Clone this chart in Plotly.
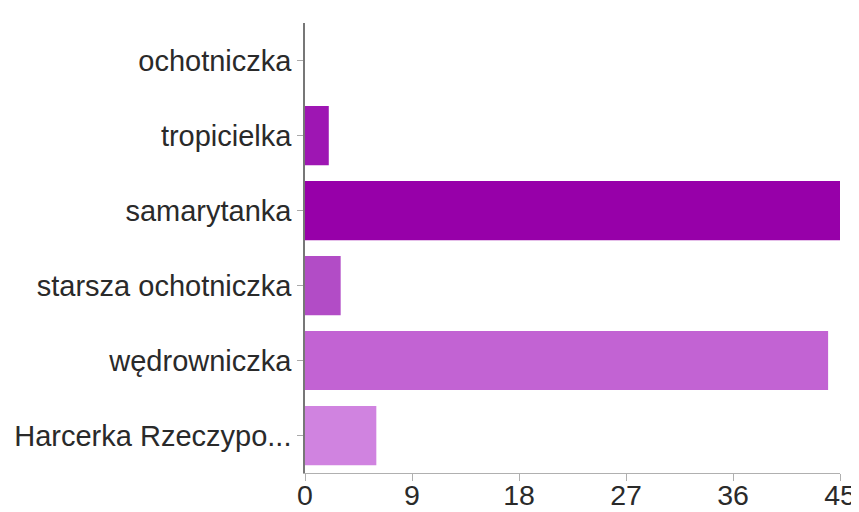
import plotly.graph_objects as go

categories = ["ochotniczka", "tropicielka", "samarytanka", "starsza ochotniczka",
              "wędrowniczka", "Harcerka Rzeczypo..."]
values = [0, 2, 45, 3, 44, 6]
bar_colors = ["#a83cbf", "#9e16b3", "#9700a9", "#b24cc6", "#c263d3", "#d083e0"]
x_ticks = [0, 9, 18, 27, 36, 45]

fig = go.Figure(go.Bar(
    y=categories,
    x=values,
    orientation="h",
    marker=dict(color=bar_colors, line=dict(width=0)),
    width=0.79,
))

# page body has an 8px default margin, so the figure is sized to the visible area
fig.update_layout(
    width=851, height=504,
    margin=dict(l=297, r=19, t=15, b=39),
    paper_bgcolor="white", plot_bgcolor="white",
    font=dict(family="Liberation Sans, Arial, sans-serif", color="#222222"),
    showlegend=False,
)
fig.update_xaxes(
    range=[0, 45], tickvals=x_ticks, ticktext=[str(v) for v in x_ticks],
    showgrid=False, zeroline=False, automargin=False,
    showline=True, linecolor="#b0b0b0", linewidth=1,
    ticks="outside", ticklen=7, tickcolor="#b0b0b0",
    ticklabelstandoff=-10,
    tickfont=dict(size=28.5, color="#2a2a2a"),
)
fig.update_yaxes(
    autorange="reversed", categoryorder="array", categoryarray=categories,
    showgrid=False, zeroline=False, automargin=False,
    showline=True, linecolor="#777777", linewidth=1.5,
    ticks="outside", ticklen=6, tickcolor="#aaaaaa",
    tickfont=dict(size=29, color="#2a2a2a"),
)

fig.write_html("out.html")
